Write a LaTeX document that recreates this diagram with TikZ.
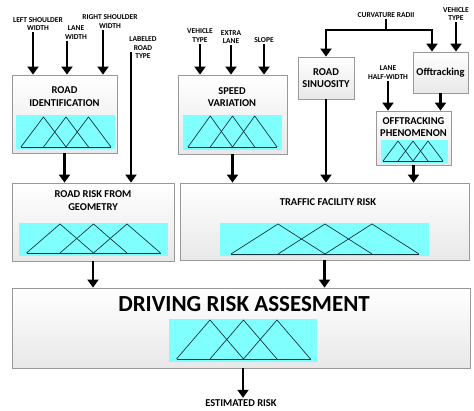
\documentclass[tikz,border=0pt]{standalone}
\usepackage{fontspec}
\setmainfont{Carlito}
\usetikzlibrary{
  arrows.meta,
  shadows
}
\definecolor{setcyan}{RGB}{128,255,255}
\definecolor{setedge}{RGB}{20,55,65}

\begin{document}
\begin{tikzpicture}[
    x=1pt,
    y=-1pt,
    block/.style={draw=black!40,line width=.8pt,top color=white,bottom color=black!9,
      drop shadow={opacity=.25,shadow xshift=1.2pt,shadow yshift=-1.2pt},inner sep=0pt,
      font=\fontsize{10.5}{12.5}\selectfont\bfseries,align=center},
    blocktitle/.style={font=\fontsize{10.5}{12.5}\selectfont\bfseries,align=center,inner sep=0pt},
    input/.style={font=\fontsize{7.5}{8.5}\selectfont\bfseries,align=center,inner sep=1.5pt},
    flow/.style={line width=2.5pt,-{Triangle[length=8pt,width=11pt]}},
    mfline/.style={setedge,line width=.7pt,line join=round},
  ]
  \useasboundingbox (0,0) rectangle (474,411);

  % boxes
  \node[block,minimum width=105pt,minimum height=78pt] (roadid) at (64.5,114) {};
  \node[block,minimum width=109pt,minimum height=79pt] (speed) at (232.5,114.5) {};
  \node[block,minimum width=56pt,minimum height=42pt] (sinu) at (326,78) {ROAD\\SINUOSITY};
  \node[block,minimum width=55pt,minimum height=41pt] (offt) at (440.5,72.5) {Offtracking};
  \node[block,minimum width=75pt,minimum height=54pt] (phen) at (413.5,138) {};
  \node[block,minimum width=162pt,minimum height=78pt] (geom) at (93,222) {};
  \node[block,minimum width=289pt,minimum height=77pt] (tfr) at (324.5,221.5) {};
  \node[block,minimum width=458pt,minimum height=80pt] (dra) at (241,328) {};

  % membership functions
  \foreach \xl/\yt/\xr/\yb/\xs/\hw/\ya/\yz in {
      16/115/115/149/21/22.5/117/147,
      183/115/282/150/188/22.25/116/147,
      381/140/448/163/383/15/141/161,
      19/223/168/256/26.5/33.5/224/253,
      220/223/429/256/231/47/224/254,
      169/319/317/362/176.5/33.5/320/359}{
    \fill[setcyan] (\xl,\yt) rectangle (\xr,\yb);
    \draw[mfline] (\xs,\yz) -- ({\xs+4*\hw},\yz);
    \foreach \k in {0,1,2}
      \draw[mfline] ({\xs+\k*\hw},\yz) -- ({\xs+(\k+1)*\hw},\ya) -- ({\xs+(\k+2)*\hw},\yz);
  }

  % titles
  \node[blocktitle] (roadidT) at (64.5,96.5) {ROAD\\IDENTIFICATION};
  \node[blocktitle] (speedT) at (232,97) {SPEED\\VARIATION};
  \node[blocktitle] (phenT) at (413.5,127) {OFFTRACKING\\PHENOMENON};
  \node[blocktitle] (geomT) at (93,200.5) {ROAD RISK FROM\\GEOMETRY};
  \node[blocktitle] (tfrT) at (328,202) {TRAFFIC FACILITY RISK};
  \node[blocktitle,font=\fontsize{23}{25}\selectfont\bfseries] (draT) at (244,304) {DRIVING RISK ASSESMENT};

  % inputs
  \node[input] (lsw) at (38,24) {LEFT SHOULDER\\WIDTH};
  \node[input] (lw) at (76,32.5) {LANE\\WIDTH};
  \node[input] (rsw) at (110,21.5) {RIGHT SHOULDER\\WIDTH};
  \node[input] (lrt) at (143,48) {LABELED\\ROAD\\TYPE};
  \node[input] (vt) at (200,35.5) {VEHICLE\\TYPE};
  \node[input] (el) at (231,37) {EXTRA\\LANE};
  \node[input] (slope) at (264,40) {SLOPE};
  \node[input] (cr) at (386,15) {CURVATURE RADII};
  \node[input] (vtb) at (456,14) {VEHICLE\\TYPE};
  \node[input] (lhw) at (388,72.5) {LANE\\HALF-WIDTH};
  \node[input,font=\fontsize{10.5}{12}\selectfont\bfseries] (est) at (241,403) {ESTIMATED RISK};

  % arrows
  \draw[flow] ([xshift=-5pt]lsw.south) -- ([xshift=-5pt]lsw.south |- roadid.north);
  \draw[flow] ([xshift=-9pt]lw.south) -- ([xshift=-9pt]lw.south |- roadid.north);
  \draw[flow] ([xshift=-7pt]rsw.south) -- ([xshift=-7pt]rsw.south |- roadid.north);
  \draw[flow] ([xshift=-12pt,yshift=-4pt]lrt.center) -- ([xshift=-12pt]lrt.center |- geom.north);
  \draw[flow] (roadid.south) -- (roadid.south |- geom.north);
  \draw[flow] (vt.south) -- (vt.south |- speed.north);
  \draw[flow] (el.south) -- (el.south |- speed.north);
  \draw[flow] (slope.south) -- (slope.south |- speed.north);
  \draw[flow] (speed.south) -- (speed.south |- tfr.north);
  \coordinate (split) at (cr.south |- 0,30);
  \draw[line width=2.5pt] (cr.south) -- (split);
  \draw[flow] (split) -| (sinu.north);
  \draw[flow] (split) -| ([xshift=-8.5pt]offt.north);
  \draw[flow] (vtb.south) -- (vtb.south |- offt.north);
  \draw[flow] (lhw.south) -- (lhw.south |- phen.north);
  \draw[flow] (offt.south) -- (offt.south |- phen.north);
  \draw[flow] (sinu.south) -- (sinu.south |- tfr.north);
  \draw[flow] (phen.south) -- (phen.south |- tfr.north);
  \draw[flow] (geom.south) -- (geom.south |- dra.north);
  \draw[flow] (tfr.south) -- (tfr.south |- dra.north);
  \draw[flow] ([xshift=2pt]est.north |- dra.south) -- ([xshift=2pt]est.north);
\end{tikzpicture}
\end{document}
